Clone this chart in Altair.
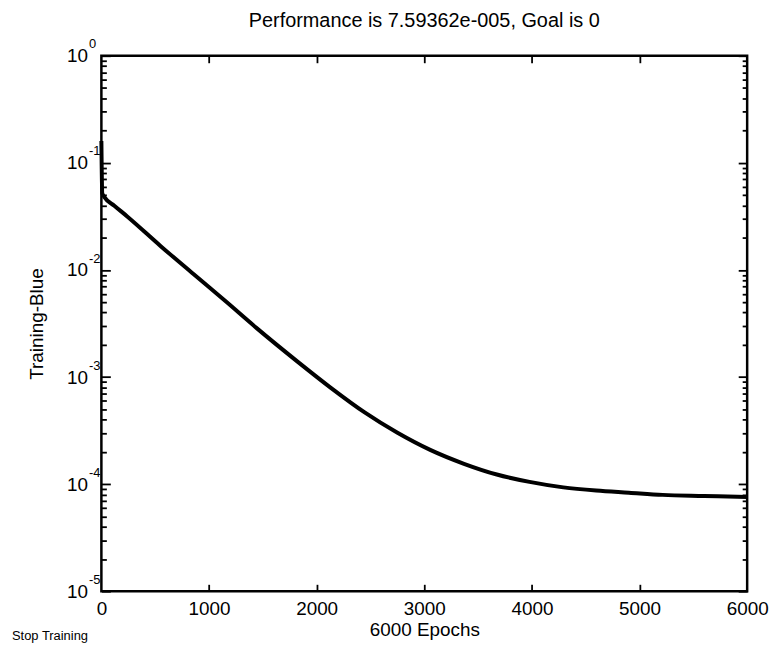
import altair as alt
import pandas as pd

# ---- data ----
epochs = [0, 8, 28, 120, 240, 554, 858, 1163, 1440, 1828, 2132, 2446, 2751,
          3055, 3369, 3674, 3978, 4292, 4597, 4902, 5215, 5600, 6000]
perf = [0.16, 0.052, 0.0479, 0.0398, 0.0316, 0.0166, 0.00912, 0.00501, 0.00288,
        0.00138, 0.000794, 0.000468, 0.000302, 0.000209, 0.000155, 0.000123,
        0.000105, 0.0000933, 0.0000871, 0.0000832, 0.0000794, 0.0000776, 0.0000759]

x_ticks = [0, 1000, 2000, 3000, 4000, 5000, 6000]
x_inner_ticks = [1000, 2000, 3000, 4000, 5000]
decades = [1e-5, 1e-4, 1e-3, 1e-2, 1e-1, 1.0]
minor_ticks = [m * d for d in decades[:-1] for m in range(2, 10)]

title_text = "Performance is 7.59362e-005, Goal is 0"
x_title = "6000 Epochs"
y_title = "Training-Blue"
button_text = "Stop Training"

FONT = "Liberation Sans, Arial, Helvetica, sans-serif"
W, H = 650, 539

df = pd.DataFrame({"epoch": epochs, "perf": perf})
btn = pd.DataFrame({"t": [button_text]})

xs = alt.Scale(domain=[0, 6000], nice=False, zero=False)
ys = alt.Scale(type="log", domain=[1e-5, 1], nice=False)

base = alt.Chart(df)


def tick_axis(orient, values, size):
    return alt.Axis(orient=orient, values=values, labels=False, domain=False,
                    tickSize={"expr": str(-size)}, tickWidth=1.8,
                    tickColor="black", title=None, grid=False)


line = base.mark_line(color="black", strokeWidth=4, interpolate="monotone").encode(
    x=alt.X("epoch:Q", scale=xs, axis=alt.Axis(
        orient="bottom", values=x_ticks, format="d", ticks=False, domain=False,
        labelPadding=8, labelFlush=False, labelOverlap=False,
        title=x_title, titlePadding=3)),
    y=alt.Y("perf:Q", scale=ys, axis=alt.Axis(
        orient="left", values=decades, labelExpr="'10'", ticks=False, domain=False,
        labelPadding=14, labelFlush=False, labelOverlap=False, labelBaseline="middle",
        title=y_title, titlePadding=20)),
)

# inward ticks: bottom edge + left edge (minor)
ticks_a = base.mark_line(opacity=0).encode(
    x=alt.X("epoch:Q", scale=xs, axis=tick_axis("bottom", x_inner_ticks, 7)),
    y=alt.Y("perf:Q", scale=ys, axis=tick_axis("left", minor_ticks, 5)),
)
# inward ticks: top edge + right edge (minor)
ticks_b = base.mark_line(opacity=0).encode(
    x=alt.X("epoch:Q", scale=xs, axis=tick_axis("top", x_inner_ticks, 7)),
    y=alt.Y("perf:Q", scale=ys, axis=tick_axis("right", minor_ticks, 5)),
)
# inward major ticks on left and right edges
ticks_c = base.mark_line(opacity=0).encode(
    x=alt.X("epoch:Q", scale=xs, axis=None),
    y=alt.Y("perf:Q", scale=ys, axis=tick_axis("left", decades, 9)),
)
ticks_d = base.mark_line(opacity=0).encode(
    x=alt.X("epoch:Q", scale=xs, axis=None),
    y=alt.Y("perf:Q", scale=ys, axis=tick_axis("right", decades, 9)),
)

# superscript exponents of the decade labels
expo = base.mark_line(opacity=0).encode(
    x=alt.X("epoch:Q", scale=xs, axis=None),
    y=alt.Y("perf:Q", scale=ys, axis=alt.Axis(
        orient="left", values=decades,
        labelExpr="'' + round(log(datum.value)/LN10)",
        ticks=False, domain=False, labelAlign="left", labelPadding=13,
        labelOffset=-12, labelFontSize=13, labelFlush=False, labelOverlap=False,
        title=None)),
)

button = alt.Chart(btn).mark_text(
    align="left", baseline="alphabetic", font=FONT, fontSize=13, color="black"
).encode(text="t:N", x=alt.value(-90), y=alt.value(588))

chart = alt.layer(line, ticks_a, ticks_b, ticks_c, ticks_d, expo, button).resolve_scale(
    x="independent", y="independent"
).properties(
    width=W, height=H,
    title=alt.TitleParams(title_text, font=FONT, fontSize=20, fontWeight="normal",
                          anchor="middle", frame="group", offset=7, color="black"),
    autosize=alt.AutoSizeParams(type="none"),
    padding={"left": 94, "top": 46, "right": 24, "bottom": 50},
).configure_view(
    stroke="black", strokeWidth=2.5
).configure_axis(
    grid=False, labelFont=FONT, labelFontSize=19, labelColor="black",
    titleFont=FONT, titleFontSize=19, titleFontWeight="normal", titleColor="black",
)

chart.save("out.html", embed_options={"renderer": "svg", "actions": False})
